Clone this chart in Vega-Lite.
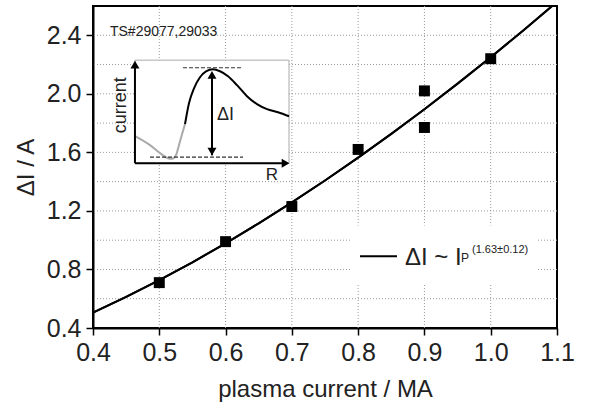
{
  "$schema": "https://vega.github.io/schema/vega-lite/v6.json",
  "width": 464,
  "height": 322,
  "autosize": {"type": "none"},
  "padding": {"left": 93, "top": 6, "right": 34, "bottom": 76},
  "background": "white",
  "config": {
    "view": {"stroke": "black", "strokeWidth": 2},
    "font": "Liberation Sans",
    "axis": {
      "domainColor": "black", "domainWidth": 2, "grid": false,
      "tickColor": "black", "tickWidth": 1.5, "tickSize": 7,
      "labelFontSize": 25, "labelColor": "#222", "labelFont": "Liberation Sans",
      "labelFlush": false, "labelOverlap": false,
      "titleFontSize": 24, "titleFontWeight": "normal", "titleColor": "#222", "titleFont": "Liberation Sans"
    }
  },
  "datasets": {
    "gridx": [{"x": 0.5}, {"x": 0.6}, {"x": 0.7}, {"x": 0.8}, {"x": 0.9}, {"x": 1.0}],
    "gridy": [{"y": 0.6}, {"y": 0.8}, {"y": 1.0}, {"y": 1.2}, {"y": 1.4}, {"y": 1.6}, {"y": 1.8}, {"y": 2.0}, {"y": 2.2}, {"y": 2.4}],
    "pts": [
      {"x": 0.5, "y": 0.71}, {"x": 0.6, "y": 0.99}, {"x": 0.7, "y": 1.23},
      {"x": 0.8, "y": 1.62}, {"x": 0.9, "y": 2.02}, {"x": 0.9, "y": 1.77}, {"x": 1.0, "y": 2.24}
    ],
    "fit": [
      {"x": 0.4, "y": 0.5053}, {"x": 0.45, "y": 0.6123}, {"x": 0.5, "y": 0.727}, {"x": 0.55, "y": 0.8491},
      {"x": 0.6, "y": 0.9785}, {"x": 0.65, "y": 1.1149}, {"x": 0.7, "y": 1.2581}, {"x": 0.75, "y": 1.4077},
      {"x": 0.8, "y": 1.5639}, {"x": 0.85, "y": 1.7264}, {"x": 0.9, "y": 1.895}, {"x": 0.95, "y": 2.0695},
      {"x": 1.0, "y": 2.25}, {"x": 1.05, "y": 2.4363}, {"x": 1.1, "y": 2.6282}
    ],
    "legendbox": [{"x": 0.79, "x2": 1.07, "y": 0.70, "y2": 1.10}],
    "legendline": [{"x": 0.8028, "x2": 0.8586, "y": 0.891}],
    "insetbox": [{"x": 0.4633, "x2": 0.6957, "y": 1.526, "y2": 2.23}],
    "gray": [
      {"x": 0.4634, "y": 1.7106}, {"x": 0.486, "y": 1.6492}, {"x": 0.5011, "y": 1.5946},
      {"x": 0.5131, "y": 1.5604}, {"x": 0.5192, "y": 1.557}, {"x": 0.5252, "y": 1.581},
      {"x": 0.5297, "y": 1.649}, {"x": 0.5343, "y": 1.724}, {"x": 0.5388, "y": 1.793}
    ],
    "black": [
      {"x": 0.5388, "y": 1.793}, {"x": 0.5448, "y": 1.936}, {"x": 0.5524, "y": 2.038},
      {"x": 0.5614, "y": 2.113}, {"x": 0.5705, "y": 2.154}, {"x": 0.581, "y": 2.168},
      {"x": 0.5916, "y": 2.154}, {"x": 0.6037, "y": 2.12}, {"x": 0.6173, "y": 2.059},
      {"x": 0.6323, "y": 1.984}, {"x": 0.6474, "y": 1.929}, {"x": 0.6625, "y": 1.895},
      {"x": 0.6791, "y": 1.874}, {"x": 0.6957, "y": 1.847}
    ],
    "solidrules": [
      {"x": 0.4633, "x2": 0.4633, "y": 1.526, "y2": 2.19},
      {"x": 0.4633, "x2": 0.685, "y": 1.526, "y2": 1.526},
      {"x": 0.5795, "x2": 0.5795, "y": 1.58, "y2": 2.14}
    ],
    "dashrules": [
      {"x": 0.5358, "x2": 0.6263, "y": 2.178, "y2": 2.178},
      {"x": 0.486, "x2": 0.6263, "y": 1.567, "y2": 1.567}
    ],
    "up": [{"x": 0.4633, "y": 2.2}, {"x": 0.5795, "y": 2.13}],
    "down": [{"x": 0.5795, "y": 1.605}],
    "right": [{"x": 0.6905, "y": 1.526}],
    "ts": [{"x": 0.4256, "y": 2.393, "t": "TS#29077,29033"}],
    "cur": [{"x": 0.4422, "y": 1.922, "t": "current"}],
    "dI": [{"x": 0.5871, "y": 1.82, "t": "ΔI"}],
    "R": [{"x": 0.67, "y": 1.41, "t": "R"}],
    "leg": [{"x": 0.8707, "y": 0.83, "t": "ΔI ~ I"}],
    "sub": [{"x": 0.9552, "y": 0.85, "t": "P"}],
    "sup": [{"x": 0.9718, "y": 0.912, "t": "(1.63±0.12)"}]
  },
  "layer": [
    {
      "data": {"name": "fit"},
      "mark": {"type": "line", "color": "black", "strokeWidth": 2, "clip": true},
      "encoding": {
        "x": {"field": "x", "type": "quantitative",
          "scale": {"domain": [0.4, 1.1], "nice": false, "zero": false},
          "axis": {"title": "plasma current / MA", "titlePadding": 12, "labelPadding": 5,
            "values": [0.4, 0.45, 0.5, 0.55, 0.6, 0.65, 0.7, 0.75, 0.8, 0.85, 0.9, 0.95, 1.0, 1.05, 1.1],
            "labelExpr": "round(datum.value*100)%10==0 ? format(datum.value,'.1f') : ''"}},
        "y": {"field": "y", "type": "quantitative",
          "scale": {"domain": [0.4, 2.6], "nice": false, "zero": false},
          "axis": {"title": "ΔI / A", "titlePadding": 8, "labelPadding": 5,
            "values": [0.4, 0.5, 0.6, 0.7, 0.8, 0.9, 1.0, 1.1, 1.2, 1.3, 1.4, 1.5, 1.6, 1.7, 1.8, 1.9, 2.0, 2.1, 2.2, 2.3, 2.4, 2.5, 2.6],
            "labelExpr": "round(datum.value*10)%4==0 ? format(datum.value,'.1f') : ''"}}
      }
    },
    {
      "data": {"name": "gridx"},
      "mark": {"type": "rule", "color": "#999", "strokeWidth": 1, "strokeDash": [1, 2]},
      "encoding": {"x": {"field": "x", "type": "quantitative"}}
    },
    {
      "data": {"name": "gridy"},
      "mark": {"type": "rule", "color": "#999", "strokeWidth": 1, "strokeDash": [1, 2]},
      "encoding": {"y": {"field": "y", "type": "quantitative"}}
    },
    {
      "data": {"name": "fit"},
      "mark": {"type": "line", "color": "black", "strokeWidth": 2, "clip": true},
      "encoding": {"x": {"field": "x", "type": "quantitative"}, "y": {"field": "y", "type": "quantitative"}}
    },
    {
      "data": {"name": "pts"},
      "mark": {"type": "point", "shape": "square", "filled": true, "color": "black", "size": 120, "opacity": 1},
      "encoding": {"x": {"field": "x", "type": "quantitative"}, "y": {"field": "y", "type": "quantitative"}}
    },
    {
      "data": {"name": "legendbox"},
      "mark": {"type": "rect", "fill": "white"},
      "encoding": {"x": {"field": "x", "type": "quantitative"}, "x2": {"field": "x2"}, "y": {"field": "y", "type": "quantitative"}, "y2": {"field": "y2"}}
    },
    {
      "data": {"name": "legendline"},
      "mark": {"type": "rule", "color": "black", "strokeWidth": 2},
      "encoding": {"x": {"field": "x", "type": "quantitative"}, "x2": {"field": "x2"}, "y": {"field": "y", "type": "quantitative"}}
    },
    {
      "data": {"name": "leg"},
      "mark": {"type": "text", "fontSize": 24, "align": "left", "baseline": "alphabetic", "color": "#222"},
      "encoding": {"x": {"field": "x", "type": "quantitative"}, "y": {"field": "y", "type": "quantitative"}, "text": {"field": "t"}}
    },
    {
      "data": {"name": "sub"},
      "mark": {"type": "text", "fontSize": 12, "align": "left", "baseline": "alphabetic", "color": "#222"},
      "encoding": {"x": {"field": "x", "type": "quantitative"}, "y": {"field": "y", "type": "quantitative"}, "text": {"field": "t"}}
    },
    {
      "data": {"name": "sup"},
      "mark": {"type": "text", "fontSize": 11, "align": "left", "baseline": "alphabetic", "color": "#222"},
      "encoding": {"x": {"field": "x", "type": "quantitative"}, "y": {"field": "y", "type": "quantitative"}, "text": {"field": "t"}}
    },
    {
      "data": {"name": "insetbox"},
      "mark": {"type": "rect", "fill": "white", "stroke": "#aaa", "strokeWidth": 1},
      "encoding": {"x": {"field": "x", "type": "quantitative"}, "x2": {"field": "x2"}, "y": {"field": "y", "type": "quantitative"}, "y2": {"field": "y2"}}
    },
    {
      "data": {"name": "gray"},
      "mark": {"type": "line", "color": "#aaa", "strokeWidth": 2, "interpolate": "monotone"},
      "encoding": {"x": {"field": "x", "type": "quantitative"}, "y": {"field": "y", "type": "quantitative"}}
    },
    {
      "data": {"name": "black"},
      "mark": {"type": "line", "color": "black", "strokeWidth": 2, "interpolate": "monotone"},
      "encoding": {"x": {"field": "x", "type": "quantitative"}, "y": {"field": "y", "type": "quantitative"}}
    },
    {
      "data": {"name": "solidrules"},
      "mark": {"type": "rule", "color": "black", "strokeWidth": 2},
      "encoding": {"x": {"field": "x", "type": "quantitative"}, "x2": {"field": "x2"}, "y": {"field": "y", "type": "quantitative"}, "y2": {"field": "y2"}}
    },
    {
      "data": {"name": "dashrules"},
      "mark": {"type": "rule", "color": "#333", "strokeWidth": 1.2, "strokeDash": [4, 2]},
      "encoding": {"x": {"field": "x", "type": "quantitative"}, "x2": {"field": "x2"}, "y": {"field": "y", "type": "quantitative"}, "y2": {"field": "y2"}}
    },
    {
      "data": {"name": "up"},
      "mark": {"type": "point", "shape": "triangle-up", "filled": true, "color": "black", "size": 80, "opacity": 1},
      "encoding": {"x": {"field": "x", "type": "quantitative"}, "y": {"field": "y", "type": "quantitative"}}
    },
    {
      "data": {"name": "down"},
      "mark": {"type": "point", "shape": "triangle-down", "filled": true, "color": "black", "size": 80, "opacity": 1},
      "encoding": {"x": {"field": "x", "type": "quantitative"}, "y": {"field": "y", "type": "quantitative"}}
    },
    {
      "data": {"name": "right"},
      "mark": {"type": "point", "shape": "triangle-right", "filled": true, "color": "black", "size": 80, "opacity": 1},
      "encoding": {"x": {"field": "x", "type": "quantitative"}, "y": {"field": "y", "type": "quantitative"}}
    },
    {
      "data": {"name": "ts"},
      "mark": {"type": "text", "fontSize": 14, "align": "left", "baseline": "alphabetic", "color": "#222"},
      "encoding": {"x": {"field": "x", "type": "quantitative"}, "y": {"field": "y", "type": "quantitative"}, "text": {"field": "t"}}
    },
    {
      "data": {"name": "cur"},
      "mark": {"type": "text", "fontSize": 18, "align": "center", "baseline": "middle", "angle": 270, "color": "#222"},
      "encoding": {"x": {"field": "x", "type": "quantitative"}, "y": {"field": "y", "type": "quantitative"}, "text": {"field": "t"}}
    },
    {
      "data": {"name": "dI"},
      "mark": {"type": "text", "fontSize": 18, "align": "left", "baseline": "alphabetic", "color": "#222"},
      "encoding": {"x": {"field": "x", "type": "quantitative"}, "y": {"field": "y", "type": "quantitative"}, "text": {"field": "t"}}
    },
    {
      "data": {"name": "R"},
      "mark": {"type": "text", "fontSize": 17, "align": "center", "baseline": "alphabetic", "color": "#222"},
      "encoding": {"x": {"field": "x", "type": "quantitative"}, "y": {"field": "y", "type": "quantitative"}, "text": {"field": "t"}}
    }
  ]
}
